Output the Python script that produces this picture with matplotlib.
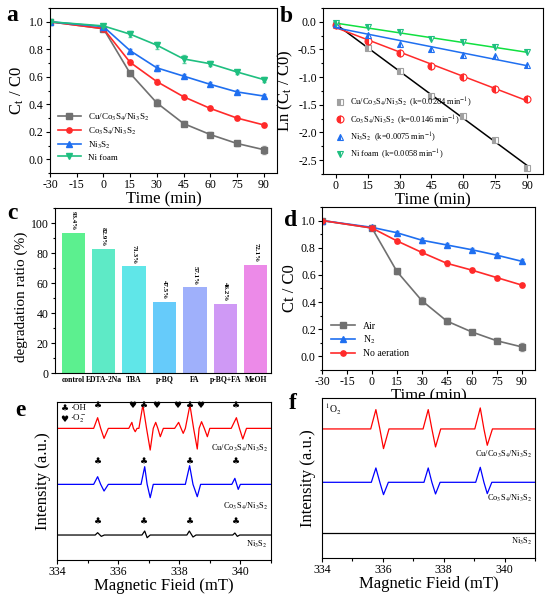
import numpy as np
import matplotlib
matplotlib.use('Agg')
import matplotlib.pyplot as plt
from matplotlib.ticker import AutoMinorLocator, MultipleLocator

plt.rcParams['font.family'] = ['Liberation Serif', 'DejaVu Sans']
plt.rcParams['mathtext.fontset'] = 'stix'
plt.rcParams['axes.linewidth'] = 0.8
plt.rcParams['axes.unicode_minus'] = False

# ---- data ----
t_full = [-30, 0, 15, 30, 45, 60, 75, 90]
a_cu = [1.0, 0.95, 0.625, 0.41, 0.26, 0.18, 0.115, 0.07]
a_co = [1.0, 0.95, 0.705, 0.565, 0.455, 0.37, 0.30, 0.25]
a_ni = [1.0, 0.965, 0.79, 0.665, 0.605, 0.545, 0.49, 0.46]
a_nf = [1.0, 0.97, 0.91, 0.83, 0.73, 0.695, 0.635, 0.58]
a_cu_err = [0, 0.01, 0.02, 0.025, 0.02, 0.015, 0.02, 0.03]
a_co_err = [0, 0.01, 0.02, 0.02, 0.015, 0.015, 0.015, 0.015]
a_ni_err = [0, 0.01, 0.015, 0.02, 0.015, 0.015, 0.015, 0.015]
a_nf_err = [0, 0.01, 0.02, 0.025, 0.03, 0.02, 0.015, 0.015]

t_b = [0, 15, 30, 45, 60, 75, 90]
b_cu = [-0.05, -0.47, -0.89, -1.34, -1.70, -2.14, -2.64]
b_co = [-0.05, -0.35, -0.57, -0.79, -1.00, -1.21, -1.39]
b_ni = [-0.035, -0.23, -0.40, -0.50, -0.60, -0.61, -0.78]
b_nf = [-0.03, -0.10, -0.19, -0.31, -0.37, -0.46, -0.55]
b_k = ['0.0284', '0.0146', '0.0075', '0.0058']

c_names = ['control', 'EDTA-2Na', 'TBA', 'p-BQ', 'FA', 'p-BQ+FA', 'MeOH']
c_vals = [93.4, 82.9, 71.3, 47.5, 57.1, 46.2, 72.1]
c_colors = ['#5cf08f', '#5eeac6', '#60e6e8', '#66cbfa', '#9fb0fb', '#cf99f5', '#ec8ae8']

d_air = [1.0, 0.945, 0.625, 0.41, 0.26, 0.18, 0.115, 0.07]
d_n2 = [1.0, 0.95, 0.91, 0.855, 0.82, 0.785, 0.745, 0.70]
d_no = [1.0, 0.945, 0.85, 0.765, 0.685, 0.635, 0.58, 0.525]
d_air_err = [0, 0.01, 0.02, 0.025, 0.02, 0.015, 0.02, 0.03]
d_n2_err = [0, 0.01, 0.015, 0.02, 0.015, 0.015, 0.015, 0.015]
d_no_err = [0, 0.01, 0.015, 0.015, 0.02, 0.015, 0.015, 0.015]

# EPR spectra, key points (field in mT, intensity a.u. relative to baseline)
e_red_x = [334.0, 335.2, 335.33, 335.43, 335.54, 335.68, 336.35, 336.45, 336.5, 336.56, 336.62,
           336.68, 336.81, 336.93, 337.05, 337.15, 337.23, 337.3, 337.38, 337.48,
           337.85, 337.98, 338.06, 338.13, 338.2, 338.35, 338.47, 338.59, 338.65,
           338.73, 338.82, 338.92, 339.0, 339.7, 339.87, 339.97, 340.08, 340.2, 341.0]
e_red_y = [0, 0, 3.2, 0, -3.0, 0, 0, 1.8, 0, -1.0, 0,
           0, 7.0, 0, -6.5, 0, 1.8, 0, -2.5, 0,
           0, 1.8, 0, -1.5, 0, 7.0, 0, -6.2, 0,
           2.0, 0, -2.5, 0, 0, 3.2, 0, -3.2, 0, 0]
e_blue_x = [334.0, 335.2, 335.33, 335.43, 335.54, 335.68, 336.75, 336.87, 336.95, 337.05, 337.15,
            338.2, 338.34, 338.45, 338.59, 338.7, 339.72, 339.82, 339.88, 339.93, 340.0, 341.0]
e_blue_y = [0, 0, 2.3, 0, -2.0, 0, 0, 5.3, 0, -4.0, 0,
            0, 5.6, 0, -3.7, 0, 0, 1.8, 0, -1.5, 0, 0]
e_black_x = [334.0, 335.25, 335.33, 335.45, 335.55, 336.78, 336.87, 336.95, 337.05,
             338.25, 338.33, 338.45, 338.55, 339.75, 339.82, 339.9, 339.98, 341.0]
e_black_y = [0, 0, 0.7, -0.4, 0, 0, 1.2, -0.8, 0, 0, 1.2, -0.6, 0, 0, 0.6, -0.4, 0, 0]
e_oh = [335.35, 336.85, 338.35, 339.85]
e_o2 = [336.45, 337.25, 337.95, 338.7]

f_red_x = [334.0, 335.6, 335.77, 335.9, 336.02, 336.2, 337.32, 337.49, 337.61, 337.73, 337.9,
           339.02, 339.2, 339.32, 339.43, 339.6, 341.0]
f_red_y = [0, 0, 5.8, 0, -5.9, 0, 0, 5.8, 0, -5.4, 0, 0, 6.3, 0, -4.9, 0, 0]
f_blue_x = [334.0, 335.62, 335.77, 335.9, 336.02, 336.18, 337.35, 337.49, 337.61, 337.73, 337.88,
            339.05, 339.2, 339.32, 339.43, 339.58, 341.0]
f_blue_y = [0, 0, 4.3, 0, -3.7, 0, 0, 4.3, 0, -3.5, 0, 0, 4.5, 0, -3.4, 0, 0]
f_black_x = [334.0, 341.0]
f_black_y = [0, 0]

cat_a = r'Cu/Co$_3$S$_4$/Ni$_3$S$_2$'
cat_b = r'Co$_3$S$_4$/Ni$_3$S$_2$'
cat_c = r'Ni$_3$S$_2$'

GRAY, RED, BLUE, GREEN = '#707070', '#ff2a2a', '#1f6ff0', '#1fbf80'


def style(ax):
    ax.tick_params(which='both', direction='out', labelsize=8.5, width=0.8, pad=1.5)
    ax.tick_params(which='major', length=3)
    ax.tick_params(which='minor', length=1.8)


def kinetics(ax, series):
    for y, e, c, m, lab in series:
        ax.errorbar(t_full, y, yerr=e, color=c, ls='none', ecolor=c, elinewidth=0.6,
                    capsize=1.5, alpha=0.7)
        ax.plot(t_full, y, color=c, marker=m, ms=3.8, lw=1.2, label=lab)
    ax.set_xlim(-30, 97.5)
    ax.set_ylim(-0.1, 1.1)
    ax.set_xticks(t_full + [-15])
    ax.yaxis.set_major_locator(MultipleLocator(0.2))
    ax.yaxis.set_minor_locator(AutoMinorLocator(2))
    ax.set_xlabel('Time (min)', fontsize=12, labelpad=0)


fig = plt.figure(figsize=(5.5, 5.95), dpi=100)

# ---- a ----
ax = fig.add_axes([0.0909, 0.7092, 0.4127, 0.2773])
kinetics(ax, [(a_cu, a_cu_err, GRAY, 's', cat_a), (a_co, a_co_err, RED, 'o', cat_b),
              (a_ni, a_ni_err, BLUE, '^', cat_c), (a_nf, a_nf_err, GREEN, 'v', 'Ni foam')])
ax.set_ylabel(r'C$_\mathregular{t}$ / C0', fontsize=12, labelpad=2)
style(ax)
ax.legend(loc='lower left', fontsize=6.5, frameon=False, handlelength=2.5, labelspacing=0.3,
          bbox_to_anchor=(0.0, 0.02))
fig.text(0.012, 0.965, 'a', fontsize=17, fontweight='bold')

# ---- b ----
ax = fig.add_axes([0.5873, 0.7076, 0.4, 0.279])
for y, c, fc, m, k, lab in [(b_cu, 'black', '#a0a0a0', 's', b_k[0], cat_a),
                            (b_co, RED, RED, 'o', b_k[1], cat_b),
                            (b_ni, BLUE, BLUE, '^', b_k[2], cat_c),
                            (b_nf, '#10e040', GREEN, 'v', b_k[3], 'Ni foam')]:
    p = np.polyfit(t_b, y, 1)
    ax.plot([t_b[0], t_b[-1]], np.polyval(p, [t_b[0], t_b[-1]]), color=c, lw=1.1)
    ax.plot(t_b, y, ls='none', marker=m, ms=5, mec=fc, mfc=fc, fillstyle='left',
            markerfacecoloralt='white', mew=0.8,
            label=lab + r'  (k=' + k + r' min$^{-1}$)')
ax.set_xlim(-6, 97.5)
ax.set_ylim(-2.75, 0.25)
ax.set_xticks(t_b)
ax.yaxis.set_major_locator(MultipleLocator(0.5))
ax.yaxis.set_minor_locator(AutoMinorLocator(2))
ax.set_xlabel('Time (min)', fontsize=12, labelpad=0)
ax.set_ylabel(r'Ln (C$_\mathregular{t}$ / C0)', fontsize=12, labelpad=2)
style(ax)
ax.legend(loc='lower left', fontsize=6, frameon=False, handlelength=1.2, labelspacing=0.45,
          handletextpad=0.6, bbox_to_anchor=(0.02, 0.03))
fig.text(0.508, 0.963, 'b', fontsize=17, fontweight='bold')

# ---- c ----
ax = fig.add_axes([0.1, 0.3731, 0.3927, 0.2773])
xc = np.arange(len(c_names))
ax.bar(xc, c_vals, width=0.77, color=c_colors)
for xi, v in zip(xc, c_vals):
    ax.text(xi, v + 1.5, f'{v}%', rotation=-90, ha='center', va='bottom', fontsize=5,
            fontweight='bold')
ax.set_xlim(-0.6, 6.5)
ax.set_ylim(0, 110)
ax.set_xticks(xc)
ax.set_xticklabels(c_names, fontsize=5.5, fontweight='bold')
ax.yaxis.set_major_locator(MultipleLocator(20))
ax.yaxis.set_minor_locator(AutoMinorLocator(2))
ax.set_ylabel('degradation ratio (%)', fontsize=11, labelpad=2, y=0.46)
style(ax)
ax.tick_params(axis='x', length=0, labelsize=5.5, pad=2)
fig.text(0.014, 0.632, 'c', fontsize=17, fontweight='bold')

# ---- d ----
ax = fig.add_axes([0.5855, 0.3782, 0.3873, 0.274])
kinetics(ax, [(d_air, d_air_err, GRAY, 's', 'Air'), (d_n2, d_n2_err, BLUE, '^', r'N$_2$'),
              (d_no, d_no_err, RED, 'o', 'No aeration')])
ax.set_xlim(-30, 98)
ax.set_ylabel('Ct / C0', fontsize=12, labelpad=2)
style(ax)
ax.legend(loc='lower left', fontsize=7, frameon=False, handlelength=2.5, labelspacing=0.3,
          bbox_to_anchor=(0.0, 0.02))
fig.text(0.516, 0.62, 'd', fontsize=17, fontweight='bold')

# ---- e ----
ax = fig.add_axes([0.1036, 0.0588, 0.389, 0.2655])
for xs, ys, off, c in [(e_red_x, e_red_y, 39.5, 'red'), (e_blue_x, e_blue_y, 22.7, 'blue'),
                       (e_black_x, e_black_y, 7.5, 'black')]:
    ax.plot(xs, np.array(ys) + off, color=c, lw=0.9)
sym = dict(ha='center', va='center', fontsize=6.5, family=['DejaVu Sans'])
for xo in e_oh:
    ax.text(xo, 46.3, '\u2663', **sym)
    ax.text(xo, 29.5, '\u2663', **sym)
    ax.text(xo, 11.5, '\u2663', **sym)
for xo in e_o2:
    ax.text(xo, 46.3, '\u2665', **sym)
ax.text(334.25, 45.5, '\u2663', **sym)
ax.text(334.25, 42.3, '\u2665', **sym)
ax.text(334.42, 45.5, '\u00b7OH', fontsize=6.5, va='center')
ax.text(334.42, 42.3, r'$\cdot$O$_2^-$', fontsize=6.5, va='center')
ax.text(340.9, 33.5, cat_a, fontsize=6, ha='right', va='center')
ax.text(340.9, 16.0, cat_b, fontsize=6, ha='right', va='center')
ax.text(340.9, 4.8, cat_c, fontsize=6, ha='right', va='center')
ax.set_xlim(334, 341)
ax.set_ylim(0, 47.4)
ax.set_yticks([])
ax.set_xticks([334, 336, 338, 340])
ax.xaxis.set_minor_locator(AutoMinorLocator(2))
ax.set_xlabel('Magnetic Fieid (mT)', fontsize=12, labelpad=0)
ax.set_ylabel('Intensity (a.u.)', fontsize=12, labelpad=4)
style(ax)
fig.text(0.028, 0.3, 'e', fontsize=17, fontweight='bold')

# ---- f ----
ax = fig.add_axes([0.5855, 0.0622, 0.3873, 0.269])
for xs, ys, off, c in [(f_red_x, f_red_y, 38.7, 'red'), (f_blue_x, f_blue_y, 22.7, 'blue'),
                       (f_black_x, f_black_y, 7.5, 'black')]:
    ax.plot(xs, np.array(ys) + off, color=c, lw=0.9)
ax.text(334.1, 44.5, r'$^1$O$_2$', fontsize=7, va='center')
ax.text(340.9, 31.2, cat_a, fontsize=6, ha='right', va='center')
ax.text(340.9, 17.8, cat_b, fontsize=6, ha='right', va='center')
ax.text(340.9, 5.0, cat_c, fontsize=6, ha='right', va='center')
ax.set_xlim(334, 341)
ax.set_ylim(0, 48)
ax.set_yticks([])
ax.set_xticks([334, 336, 338, 340])
ax.xaxis.set_minor_locator(AutoMinorLocator(2))
ax.set_xlabel('Magnetic Fieid (mT)', fontsize=12, labelpad=0)
ax.set_ylabel('Intensity (a.u.)', fontsize=12, labelpad=4)
style(ax)
fig.text(0.525, 0.313, 'f', fontsize=17, fontweight='bold')

fig.savefig('out.png', dpi=100)
